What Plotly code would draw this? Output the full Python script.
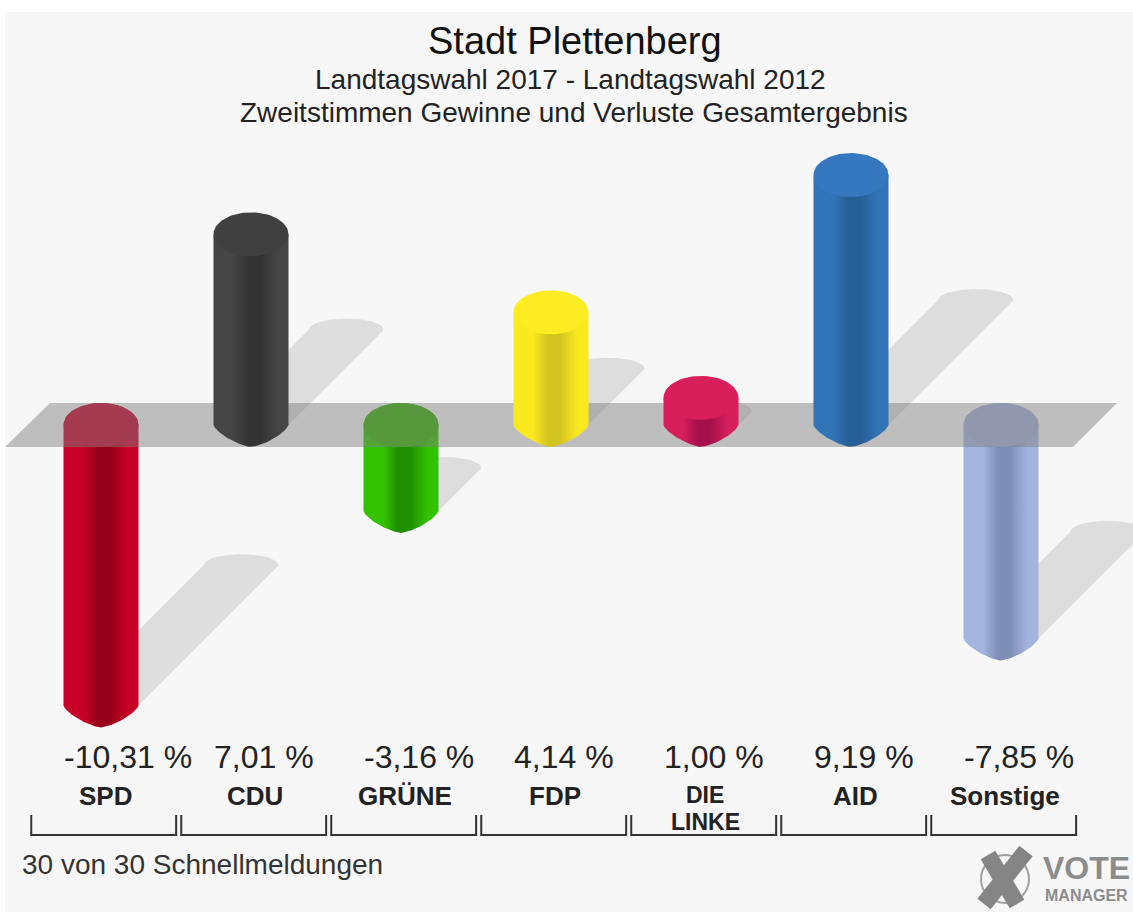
import numpy as np
import plotly.graph_objects as go

# ---- data ----
parties = ["SPD", "CDU", "GRÜNE", "FDP", "DIE|LINKE", "AID", "Sonstige"]
values = [-10.31, 7.01, -3.16, 4.14, 1.00, 9.19, -7.85]
bright = ["#c80028", "#454545", "#33c200", "#fbe920", "#d61f5b", "#3274b8", "#a3b4de"]
dark = ["#96001a", "#333333", "#1f9000", "#d4c420", "#a5104a", "#285e96", "#7f8eb5"]
caps = ["#c80028", "#404040", "#33b000", "#fdec22", "#d81e5b", "#3578c0", "#a3b0d8"]
title = "Stadt Plettenberg"
subtitle1 = "Landtagswahl 2017 - Landtagswahl 2012"
subtitle2 = "Zweitstimmen Gewinne und Verluste Gesamtergebnis"
footer = "30 von 30 Schnellmeldungen"

# ---- geometry (pixels) ----
W, H = 1133, 913
X0, SPACING = 101, 150      # pixel of first category, pixels per category
Y0, PXU = 425, 27.2         # pixel of zero line, pixels per percent point
RX = 37.5 / SPACING         # cylinder half-width, category units
RY = 22 / PXU               # cap half-height, value units
SH = 0.5                    # shadow length per percent point (value units)
SHX = SH * PXU / SPACING    # same, category units
RYS = 11 / PXU

FONT = "Liberation Sans"
INK = "#222222"


def px_x(p):
    return (p - X0) / SPACING


def px_y(p):
    return (Y0 - p) / PXU


def body_outline(i, v):
    top, bot = max(v, 0), min(v, 0)
    t = np.linspace(-1, 1, 61)
    lower = (1 - np.abs(t) ** 1.4) ** (1 / 1.4)
    arc = np.sqrt(1 - t ** 2)
    if v < 0:
        tx = list(i + RX * t) + list(i + RX * t[::-1])
        ty = list(top + RY * arc) + list(bot - RY * lower[::-1])
    else:
        tx = [i - RX, i + RX] + list(i + RX * t[::-1])
        ty = [top, top] + list(bot - RY * lower[::-1])
    return tx + tx[:1], ty + ty[:1]


def ellipse(i, y, ry=RY):
    a = np.linspace(0, 2 * np.pi, 91)
    return list(i + RX * np.cos(a)), list(y + ry * np.sin(a))


def shadow(i, v):
    base = min(v, 0)
    length = abs(v)
    dx, dy = SHX * length, SH * length
    t = np.linspace(-1, 1, 41)
    xs = [i - RX] + list(i + dx + RX * t) + [i + RX]
    ys = [base] + list(base + dy + RYS * np.sqrt(1 - t ** 2)) + [base]
    return xs + xs[:1], ys + ys[:1]


def gradient(i):
    b, d = bright[i], dark[i]
    return dict(type="horizontal",
                colorscale=[[0, b], [0.26, b], [0.46, d], [0.62, d], [0.86, b], [1, b]])


def poly(x, y, **kw):
    return go.Scatter(x=x, y=y, mode="lines", line=dict(width=0), fill="toself",
                      hoverinfo="skip", showlegend=False, **kw)


fig = go.Figure()

# shadows
for i, v in enumerate(values):
    sx, sy = shadow(i, v)
    fig.add_trace(poly(sx, sy, fillcolor="#dddddd"))

# bars below the plane
for i, v in enumerate(values):
    if v < 0:
        bx, by = body_outline(i, v)
        fig.add_trace(poly(bx, by, fillgradient=gradient(i)))
        ex, ey = ellipse(i, 0)
        fig.add_trace(poly(ex, ey, fillcolor=caps[i]))

# zero plane
plane_x = [px_x(5), px_x(50), px_x(1117), px_x(1073), px_x(5)]
plane_y = [-RY, RY, RY, -RY, -RY]
fig.add_trace(poly(plane_x, plane_y, fillcolor="rgba(125,125,125,0.47)"))

# bars above the plane
for i, v in enumerate(values):
    if v >= 0:
        bx, by = body_outline(i, v)
        fig.add_trace(poly(bx, by, fillgradient=gradient(i)))
        ex, ey = ellipse(i, v)
        fig.add_trace(poly(ex, ey, fillcolor=caps[i]))

# brackets under each category
for i in range(len(values)):
    c = i + 0.018
    fig.add_trace(go.Scatter(
        x=[c - 0.483, c - 0.483, c + 0.483, c + 0.483],
        y=[px_y(815), px_y(835), px_y(835), px_y(815)],
        mode="lines", line=dict(color="#333333", width=2),
        hoverinfo="skip", showlegend=False))

annotations = []


def paper_text(text, x, y, size, anchor="center", color=INK):
    annotations.append(dict(
        text=text, xref="paper", yref="paper",
        x=x / W, y=1 - y / H, xanchor=anchor, yanchor="middle", showarrow=False,
        font=dict(family=FONT, size=size, color=color)))


paper_text(title, 575, 41, 38, color="#111111")
paper_text(subtitle1, 570, 79, 28)
paper_text(subtitle2, 573.5, 112, 28)
paper_text(footer, 20, 864, 28, anchor="left", color="#333333")

for i, (p, v) in enumerate(zip(parties, values)):
    label = f"{v:.2f}".replace(".", ",") + " %"
    annotations.append(dict(
        text=label, xref="x", yref="paper", x=i - RX - 0.012, y=1 - 757 / H,
        xanchor="left", yanchor="middle", showarrow=False,
        font=dict(family=FONT, size=32, color=INK)))
    lines = p.split("|")
    line_y = [796] if len(lines) == 1 else [795, 822]
    size = 26 if len(lines) == 1 else 23
    for line, ly in zip(lines, line_y):
        annotations.append(dict(
            text=f"<b>{line}</b>", xref="x", yref="paper", x=i + 0.027,
            y=1 - ly / H, yanchor="middle", xanchor="center", showarrow=False,
            font=dict(family=FONT, size=size, color=INK)))

# logo
paper_text("<b>VOTE</b>", 1086, 868, 32, color="#8c8c8c")
paper_text("<b>MANAGER</b>", 1086, 895, 16, color="#8c8c8c")

shapes = [
    dict(type="rect", xref="paper", yref="paper", layer="below",
         x0=5 / W, x1=1, y0=1 / H, y1=1 - 12 / H,
         fillcolor="#f7f7f7", line=dict(width=0)),
    dict(type="circle", xref="paper", yref="paper", layer="below",
         x0=981 / W, x1=1029 / W, y0=1 - 903 / H, y1=1 - 855 / H,
         line=dict(color="#a0a0a0", width=2)),
    dict(type="line", xref="paper", yref="paper", x0=988 / W, x1=1017 / W,
         y0=1 - 855 / H, y1=1 - 904 / H, line=dict(color="#858585", width=17)),
    dict(type="line", xref="paper", yref="paper", x0=1026 / W, x1=984 / W,
         y0=1 - 851 / H, y1=1 - 904 / H, line=dict(color="#858585", width=17)),
]

fig.update_layout(
    width=W, height=H, margin=dict(l=0, r=0, t=0, b=0),
    paper_bgcolor="#ffffff", plot_bgcolor="rgba(0,0,0,0)", showlegend=False,
    xaxis=dict(range=[px_x(0), px_x(W)], visible=False, fixedrange=True),
    yaxis=dict(range=[px_y(H), px_y(0)], visible=False, fixedrange=True),
    annotations=annotations, shapes=shapes,
    font=dict(family=FONT),
)

fig.write_html("out.html", config=dict(displayModeBar=False),
               post_script="document.body.style.margin='0';document.body.style.overflow='hidden';")
